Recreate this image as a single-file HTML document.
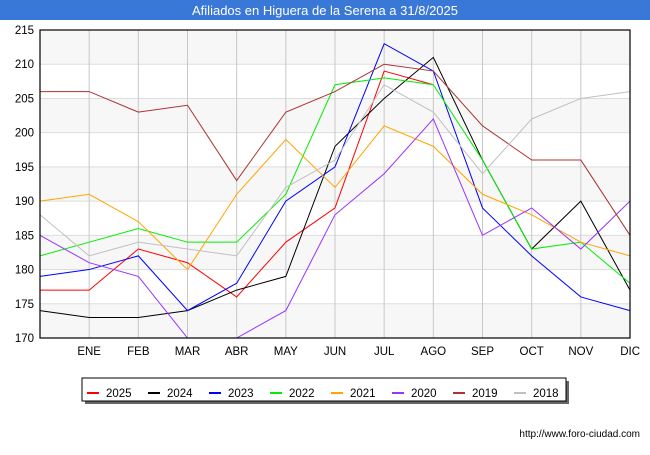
<!DOCTYPE html>
<html><head><meta charset="utf-8"><style>
body{margin:0;width:650px;height:450px;background:#fff;font-family:"Liberation Sans",sans-serif;overflow:hidden}
</style></head><body>
<svg id="c" width="650" height="450" xmlns="http://www.w3.org/2000/svg">
<rect x="0" y="0" width="650" height="20" fill="#3a78d8"/>
<text x="325" y="15" text-anchor="middle" fill="#fff" font-size="13">Afiliados en Higuera de la Serena a 31/8/2025</text>
<g id="grid"></g><g id="series"></g><g id="axes"></g>
<text x="640" y="437" text-anchor="end" font-size="10" fill="#000">http://www.foro-ciudad.com</text>
</svg>
<script>
const months=["","ENE","FEB","MAR","ABR","MAY","JUN","JUL","AGO","SEP","OCT","NOV","DIC"];
const yTicks=[170,175,180,185,190,195,200,205,210,215];
const seriesNames=["2025","2024","2023","2022","2021","2020","2019","2018"];
const seriesColors=["#ff0000","#000000","#0000ff","#00ee00","#ffa500","#9933ff","#aa3333","#c0c0c0"];
const s2025=[177,177,183,181,176,184,189,209,207];
const s2024=[174,173,173,174,177,179,198,205,211,196,183,190,177];
const s2023=[179,180,182,174,178,190,195,213,209,189,182,176,174];
const s2022=[182,184,186,184,184,191,207,208,207,196,183,184,178];
const s2021=[190,191,187,180,191,199,192,201,198,191,188,184,182];
const s2020=[185,181,179,170,170,174,188,194,202,185,189,183,190];
const s2019=[206,206,203,204,193,203,206,210,209,201,196,196,185];
const s2018=[188,182,184,183,182,192,196,207,203,194,202,205,206];
const allSeries=[s2025,s2024,s2023,s2022,s2021,s2020,s2019,s2018];
const L=40,R=630,T=30,B=338,ymin=170,ymax=215;
const x=i=>L+(R-L)*i/12;
const y=v=>B-(v-ymin)/(ymax-ymin)*(B-T);
const NS="http://www.w3.org/2000/svg";
function mk(t,a,p){const e=document.createElementNS(NS,t);for(const k in a)e.setAttribute(k,a[k]);p.appendChild(e);return e;}
const g=document.getElementById('grid'),s=document.getElementById('series'),ax=document.getElementById('axes');
for(let i=0;i<yTicks.length-1;i++){if(i%2===0){const r=mk('rect',{x:L,y:y(yTicks[i+1]),width:R-L,height:y(yTicks[i])-y(yTicks[i+1]),fill:'#f7f7f7'},g);

}}
yTicks.forEach(v=>{const l=mk('line',{x1:L,x2:R,y1:y(v),y2:y(v),stroke:'#ddd'},g);


const t=mk('text',{x:L-6,y:y(v)+4,'text-anchor':'end','font-size':'11.5',fill:'#000'},ax);t.textContent=v;

});
months.forEach((m,i)=>{if(i===0)return;const l=mk('line',{x1:x(i),x2:x(i),y1:T,y2:B,stroke:'#c8c8c8'},g);


const t=mk('text',{x:x(i),y:B+17,'text-anchor':i===12?'end':'middle','font-size':'11.5',fill:'#000'},ax);t.textContent=m;if(i===12)t.setAttribute('x',x(i)+10);

});
allSeries.forEach((d,k)=>{const p=mk('polyline',{points:d.map((v,i)=>x(i)+','+y(v)).join(' '),fill:'none',stroke:seriesColors[k],'stroke-width':1},s);

});
const fr=mk('rect',{x:L,y:T,width:R-L,height:B-T,fill:'none',stroke:'#000','stroke-width':1.2},ax);


const sh=mk('rect',{x:85,y:381,width:484,height:23,fill:'#666'},ax);


const lb=mk('rect',{x:82,y:378,width:484,height:23,fill:'#fff',stroke:'#000'},ax);


seriesNames.forEach((n,k)=>{const ex=87+k*61;
const gg=mk('g',{},ax);


mk('line',{x1:ex,x2:ex+12,y1:393,y2:393,stroke:seriesColors[k],'stroke-width':2},gg);
const t=mk('text',{x:ex+19,y:397,'font-size':'11.5',fill:'#000'},gg);t.textContent=n;});
</script>
</body></html>
